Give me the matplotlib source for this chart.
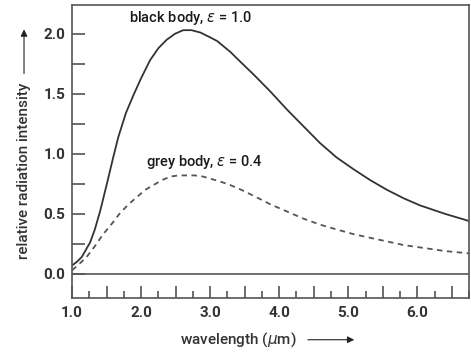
import numpy as np
import matplotlib
matplotlib.use("Agg")
import matplotlib.pyplot as plt
from matplotlib.patches import FancyArrowPatch
from matplotlib.ticker import MultipleLocator, FuncFormatter

plt.rcParams['font.family'] = ['Roboto', 'DejaVu Sans']
plt.rcParams['mathtext.fontset'] = 'dejavusans'

# curves
black_x = [1.0, 1.07, 1.14, 1.26, 1.33, 1.41, 1.50, 1.60, 1.67, 1.78, 1.89, 2.0, 2.13, 2.25, 2.37,
           2.49, 2.61, 2.73, 2.86, 3.0, 3.10, 3.29, 3.45, 3.63, 3.87, 4.11, 4.35, 4.59, 4.83, 5.08,
           5.32, 5.56, 5.80, 6.04, 6.40, 6.75]
black_y = [0.07, 0.10, 0.14, 0.26, 0.37, 0.53, 0.74, 0.98, 1.14, 1.34, 1.49, 1.63, 1.78, 1.88, 1.95,
           2.00, 2.03, 2.03, 2.01, 1.97, 1.94, 1.85, 1.76, 1.66, 1.52, 1.37, 1.23, 1.09, 0.97, 0.87,
           0.78, 0.70, 0.63, 0.57, 0.50, 0.44]

grey_x = [1.0, 1.10, 1.21, 1.33, 1.45, 1.58, 1.70, 1.82, 1.94, 2.06, 2.18, 2.30, 2.42, 2.54, 2.66,
          2.78, 2.90, 3.02, 3.14, 3.29, 3.45, 3.63, 3.87, 4.11, 4.35, 4.59, 4.83, 5.08, 5.32, 5.56,
          5.80, 6.04, 6.40, 6.75]
grey_y = [0.03, 0.08, 0.14, 0.23, 0.33, 0.42, 0.51, 0.58, 0.64, 0.70, 0.74, 0.78, 0.81, 0.82, 0.82,
          0.82, 0.81, 0.79, 0.77, 0.74, 0.70, 0.65, 0.58, 0.52, 0.46, 0.41, 0.37, 0.33, 0.30, 0.27,
          0.24, 0.22, 0.19, 0.17]

xtick_vals = [1.0, 2.0, 3.0, 4.0, 5.0, 6.0]
ytick_vals = [0.0, 0.5, 1.0, 1.5, 2.0]

fig = plt.figure(figsize=(4.71, 3.55), dpi=100)
ax = fig.add_axes([0.153, 0.161, 0.843, 0.825])

ax.plot(black_x, black_y, color='#333333', lw=1.3)
ax.plot(grey_x, grey_y, color='#555555', lw=1.3, ls=(0, (3, 2.5)))
ax.axhline(0, color='#555555', lw=1.2)

ax.set_xlim(1.0, 6.75)
ax.set_ylim(-0.2, 2.24)

for s in ax.spines.values():
    s.set_color('#555555')
    s.set_linewidth(1.2)

# x ticks: tall every 0.5, short every 0.25, labels on integers only
ax.xaxis.set_major_locator(MultipleLocator(0.5))
ax.xaxis.set_minor_locator(MultipleLocator(0.25))
ax.xaxis.set_major_formatter(FuncFormatter(
    lambda v, p: '%.1f' % v if any(abs(v - t) < 1e-6 for t in xtick_vals) else ''))
ax.tick_params(axis='x', which='major', direction='in', length=9, width=1.1, color='#444444',
               labelsize=11, pad=6)
ax.tick_params(axis='x', which='minor', direction='in', length=5, width=1.1, color='#444444')

ax.set_yticks(ytick_vals)
ax.set_yticklabels(['%.1f' % v for v in ytick_vals])
ax.set_yticks([0.25, 0.75, 1.25, 1.75], minor=True)
ax.tick_params(axis='y', which='both', direction='in', length=9, width=1.1, color='#444444',
               labelsize=11, pad=5)

for lab in ax.get_xticklabels() + ax.get_yticklabels():
    lab.set_fontweight('bold')
    lab.set_color('#333333')

ax.text(2.72, 2.13, r'black body, $\varepsilon$ = 1.0', ha='center', va='center', fontsize=10.5,
        color='#1a1a1a', fontweight='medium')
ax.text(2.92, 0.93, r'grey body, $\varepsilon$ = 0.4', ha='center', va='center', fontsize=10.5,
        color='#1a1a1a', fontweight='medium')

# axis labels with arrows
fig.text(0.051, 0.518, 'relative radiation intensity', rotation=90, ha='center', va='center',
         fontsize=11, color='#333333', fontweight='medium')
fig.add_artist(FancyArrowPatch((0.051, 0.785), (0.051, 0.925), transform=fig.transFigure,
                               arrowstyle='-|>', mutation_scale=10, color='#222222', lw=0.8))
fig.text(0.505, 0.043, r'wavelength ($\mu$m)', ha='center', va='center', fontsize=11,
         color='#333333', fontweight='medium')
fig.add_artist(FancyArrowPatch((0.648, 0.043), (0.758, 0.043), transform=fig.transFigure,
                               arrowstyle='-|>', mutation_scale=10, color='#222222', lw=0.8))

fig.savefig('out.png', dpi=100)
